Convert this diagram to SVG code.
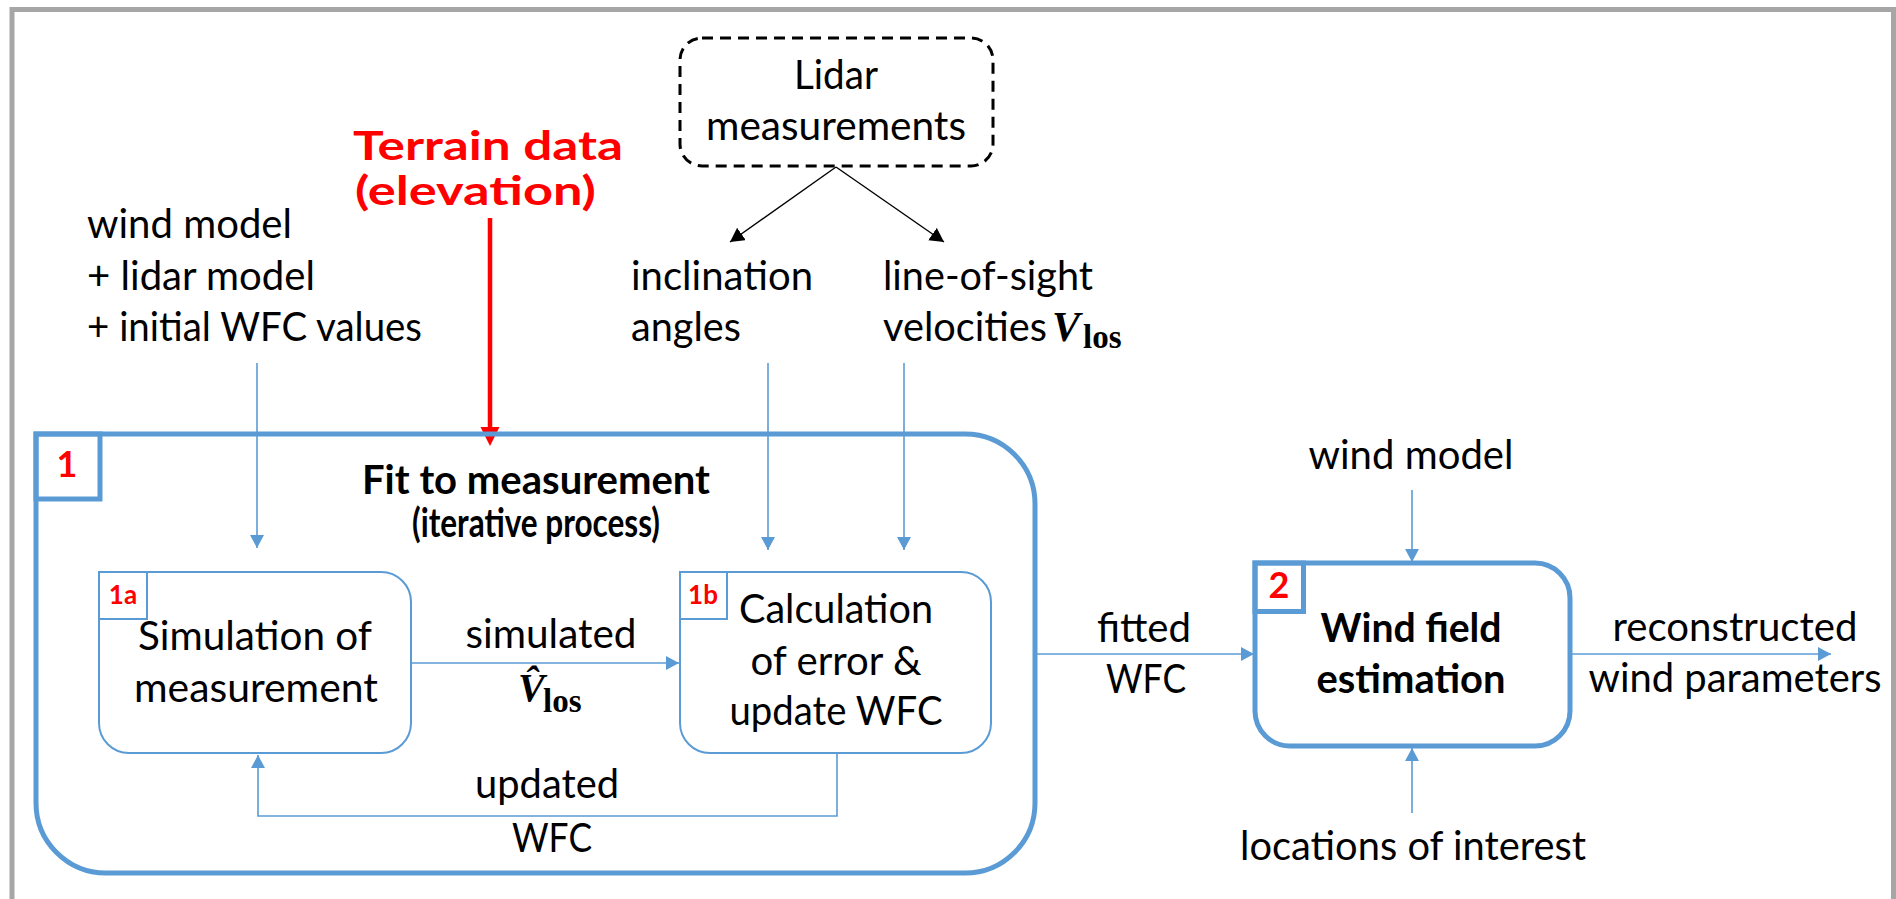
<svg xmlns="http://www.w3.org/2000/svg" width="1896" height="899" viewBox="0 0 1896 899">
<style>
.t{font-family:Lato,"Open Sans","Liberation Sans",sans-serif;font-size:40px;fill:#000}
.b{font-weight:bold}
.m{text-anchor:middle}
.red{fill:#ff0000}
.lab{font-family:Lato,"Liberation Sans",sans-serif;font-weight:bold;fill:#ff0000;text-anchor:middle}
.math{font-family:"Liberation Serif","Times New Roman",serif;font-weight:bold;fill:#000}
.bl{fill:none;stroke:#5b9bd5}
.c{fill:none;stroke:#5b9bd5;stroke-width:1.6}
</style>
<defs>
<marker id="ab" markerUnits="userSpaceOnUse" markerWidth="14" markerHeight="14" refX="13" refY="7" orient="auto">
<path d="M0,0 L13,7 L0,14 Z" fill="#5b9bd5"/>
</marker>
<marker id="ak" markerUnits="userSpaceOnUse" markerWidth="15" markerHeight="16" refX="14" refY="7.5" orient="auto">
<path d="M0,0 L14,7.5 L0,15 Z" fill="#000"/>
</marker>
</defs>
<rect width="1896" height="899" fill="#fff"/>
<path d="M12 899 V9.5 H1893.5 V899" fill="none" stroke="#a6a6a6" stroke-width="5"/>

<g id="connectors">
<line x1="836" y1="167" x2="730" y2="242" stroke="#000" stroke-width="1.4" marker-end="url(#ak)"/>
<line x1="836" y1="167" x2="944" y2="242" stroke="#000" stroke-width="1.4" marker-end="url(#ak)"/>
<line x1="490" y1="218" x2="490" y2="430" stroke="#ff0000" stroke-width="4.5"/>
<polygon points="480.5,427 499.5,427 490,446" fill="#ff0000"/>
<line class="c" x1="257" y1="363" x2="257" y2="548" marker-end="url(#ab)"/>
<line class="c" x1="768" y1="363" x2="768" y2="550" marker-end="url(#ab)"/>
<line class="c" x1="904" y1="363" x2="904" y2="550" marker-end="url(#ab)"/>
<line class="c" x1="411" y1="663" x2="679" y2="663" stroke-width="2" marker-end="url(#ab)"/>
<path class="c" d="M837 753 V816 H258 V755" marker-end="url(#ab)"/>
<line class="c" x1="1036" y1="654" x2="1254" y2="654" stroke-width="2" marker-end="url(#ab)"/>
<line class="c" x1="1412" y1="490" x2="1412" y2="562" marker-end="url(#ab)"/>
<line class="c" x1="1412" y1="813" x2="1412" y2="748" marker-end="url(#ab)"/>
<line class="c" x1="1570" y1="654" x2="1831" y2="654" stroke-width="2" marker-end="url(#ab)"/>
</g>

<g id="terrain">
<text class="t b red" x="353" y="160" font-size="47" textLength="270" lengthAdjust="spacingAndGlyphs">Terrain data</text>
<text class="t b red" x="355" y="205" font-size="47" textLength="241" lengthAdjust="spacingAndGlyphs">(elevation)</text>
</g>

<g id="lidar">
<rect x="680" y="38" width="313" height="128" rx="22" ry="22" fill="none" stroke="#000" stroke-width="3" stroke-dasharray="11 7"/>
<text class="t m" x="836" y="89" textLength="84" lengthAdjust="spacingAndGlyphs">Lidar</text>
<text class="t m" x="836" y="140" textLength="260" lengthAdjust="spacingAndGlyphs">measurements</text>
</g>

<g id="inputs-left">
<text class="t" x="87" y="238" textLength="205" lengthAdjust="spacingAndGlyphs">wind model</text>
<text class="t" x="87" y="290" textLength="228" lengthAdjust="spacingAndGlyphs">+ lidar model</text>
<text class="t" x="87" y="341" textLength="335" lengthAdjust="spacingAndGlyphs">+ initial WFC values</text>
</g>

<g id="inclination">
<text class="t" x="631" y="290" textLength="182" lengthAdjust="spacingAndGlyphs">inclination</text>
<text class="t" x="631" y="341" textLength="110" lengthAdjust="spacingAndGlyphs">angles</text>
</g>

<g id="los-velocities">
<text class="t" x="883" y="290" textLength="210" lengthAdjust="spacingAndGlyphs">line-of-sight</text>
<text class="t" x="883" y="341" textLength="164" lengthAdjust="spacingAndGlyphs">velocities</text>
<text class="math" x="1052" y="341" font-size="42" font-style="italic">V</text>
<text class="math" x="1083" y="348" font-size="33">los</text>
</g>

<g id="node1">
<path class="bl" stroke-width="5" d="M36 434 H965 A70 70 0 0 1 1035 504 V803 A70 70 0 0 1 965 873 H106 A70 70 0 0 1 36 803 Z"/>
<rect class="bl" stroke-width="5" x="36" y="434" width="64" height="65"/>
<text class="lab" x="67" y="477" font-size="36">1</text>
<text class="t b m" x="536" y="494" font-size="40" textLength="348" lengthAdjust="spacingAndGlyphs">Fit to measurement</text>
<text class="t b m" x="536" y="537" font-size="29" textLength="248" lengthAdjust="spacingAndGlyphs">(iterative process)</text>
</g>

<g id="node1a">
<path class="bl" stroke-width="2" d="M99 572 H381 A30 30 0 0 1 411 602 V723 A30 30 0 0 1 381 753 H129 A30 30 0 0 1 99 723 Z"/>
<rect class="bl" stroke-width="2" x="99" y="572" width="48" height="47"/>
<text class="lab" x="123" y="604" font-size="26">1a</text>
<text class="t m" x="255" y="650" textLength="234" lengthAdjust="spacingAndGlyphs">Simulation of</text>
<text class="t m" x="256" y="702" textLength="244" lengthAdjust="spacingAndGlyphs">measurement</text>
</g>

<g id="node1b">
<path class="bl" stroke-width="2" d="M680 572 H961 A30 30 0 0 1 991 602 V723 A30 30 0 0 1 961 753 H710 A30 30 0 0 1 680 723 Z"/>
<rect class="bl" stroke-width="2" x="680" y="572" width="47" height="47"/>
<text class="lab" x="703" y="604" font-size="26">1b</text>
<text class="t m" x="836" y="623" textLength="194" lengthAdjust="spacingAndGlyphs">Calculation</text>
<text class="t m" x="836" y="675" textLength="171" lengthAdjust="spacingAndGlyphs">of error &amp;</text>
<text class="t m" x="836" y="725" textLength="213" lengthAdjust="spacingAndGlyphs">update WFC</text>
</g>

<g id="label-simulated">
<text class="t m" x="551" y="648" textLength="171" lengthAdjust="spacingAndGlyphs">simulated</text>
<text class="math" x="518" y="701" font-size="40" font-style="italic">V&#x302;</text>
<text class="math" x="543" y="712" font-size="33">los</text>
</g>

<g id="label-updated">
<text class="t m" x="547" y="798" textLength="144" lengthAdjust="spacingAndGlyphs">updated</text>
<text class="t m" x="552" y="852" textLength="80" lengthAdjust="spacingAndGlyphs">WFC</text>
</g>

<g id="label-fitted">
<text class="t m" x="1144" y="642" textLength="94" lengthAdjust="spacingAndGlyphs">fitted</text>
<text class="t m" x="1146" y="693" textLength="80" lengthAdjust="spacingAndGlyphs">WFC</text>
</g>

<g id="node2">
<path class="bl" stroke-width="5" d="M1255 563 H1535 A35 35 0 0 1 1570 598 V711 A35 35 0 0 1 1535 746 H1290 A35 35 0 0 1 1255 711 Z"/>
<rect class="bl" stroke-width="5" x="1255" y="563" width="48.5" height="48.5"/>
<text class="lab" x="1279" y="598" font-size="36">2</text>
<text class="t b m" x="1411" y="642" textLength="181" lengthAdjust="spacingAndGlyphs">Wind field</text>
<text class="t b m" x="1411" y="693" textLength="189" lengthAdjust="spacingAndGlyphs">estimation</text>
</g>

<g id="input-wind-model">
<text class="t m" x="1411" y="469" textLength="205" lengthAdjust="spacingAndGlyphs">wind model</text>
</g>

<g id="input-locations">
<text class="t m" x="1413" y="860" textLength="346" lengthAdjust="spacingAndGlyphs">locations of interest</text>
</g>

<g id="output">
<text class="t m" x="1735" y="641" textLength="245" lengthAdjust="spacingAndGlyphs">reconstructed</text>
<text class="t m" x="1735" y="692" textLength="293" lengthAdjust="spacingAndGlyphs">wind parameters</text>
</g>
</svg>
